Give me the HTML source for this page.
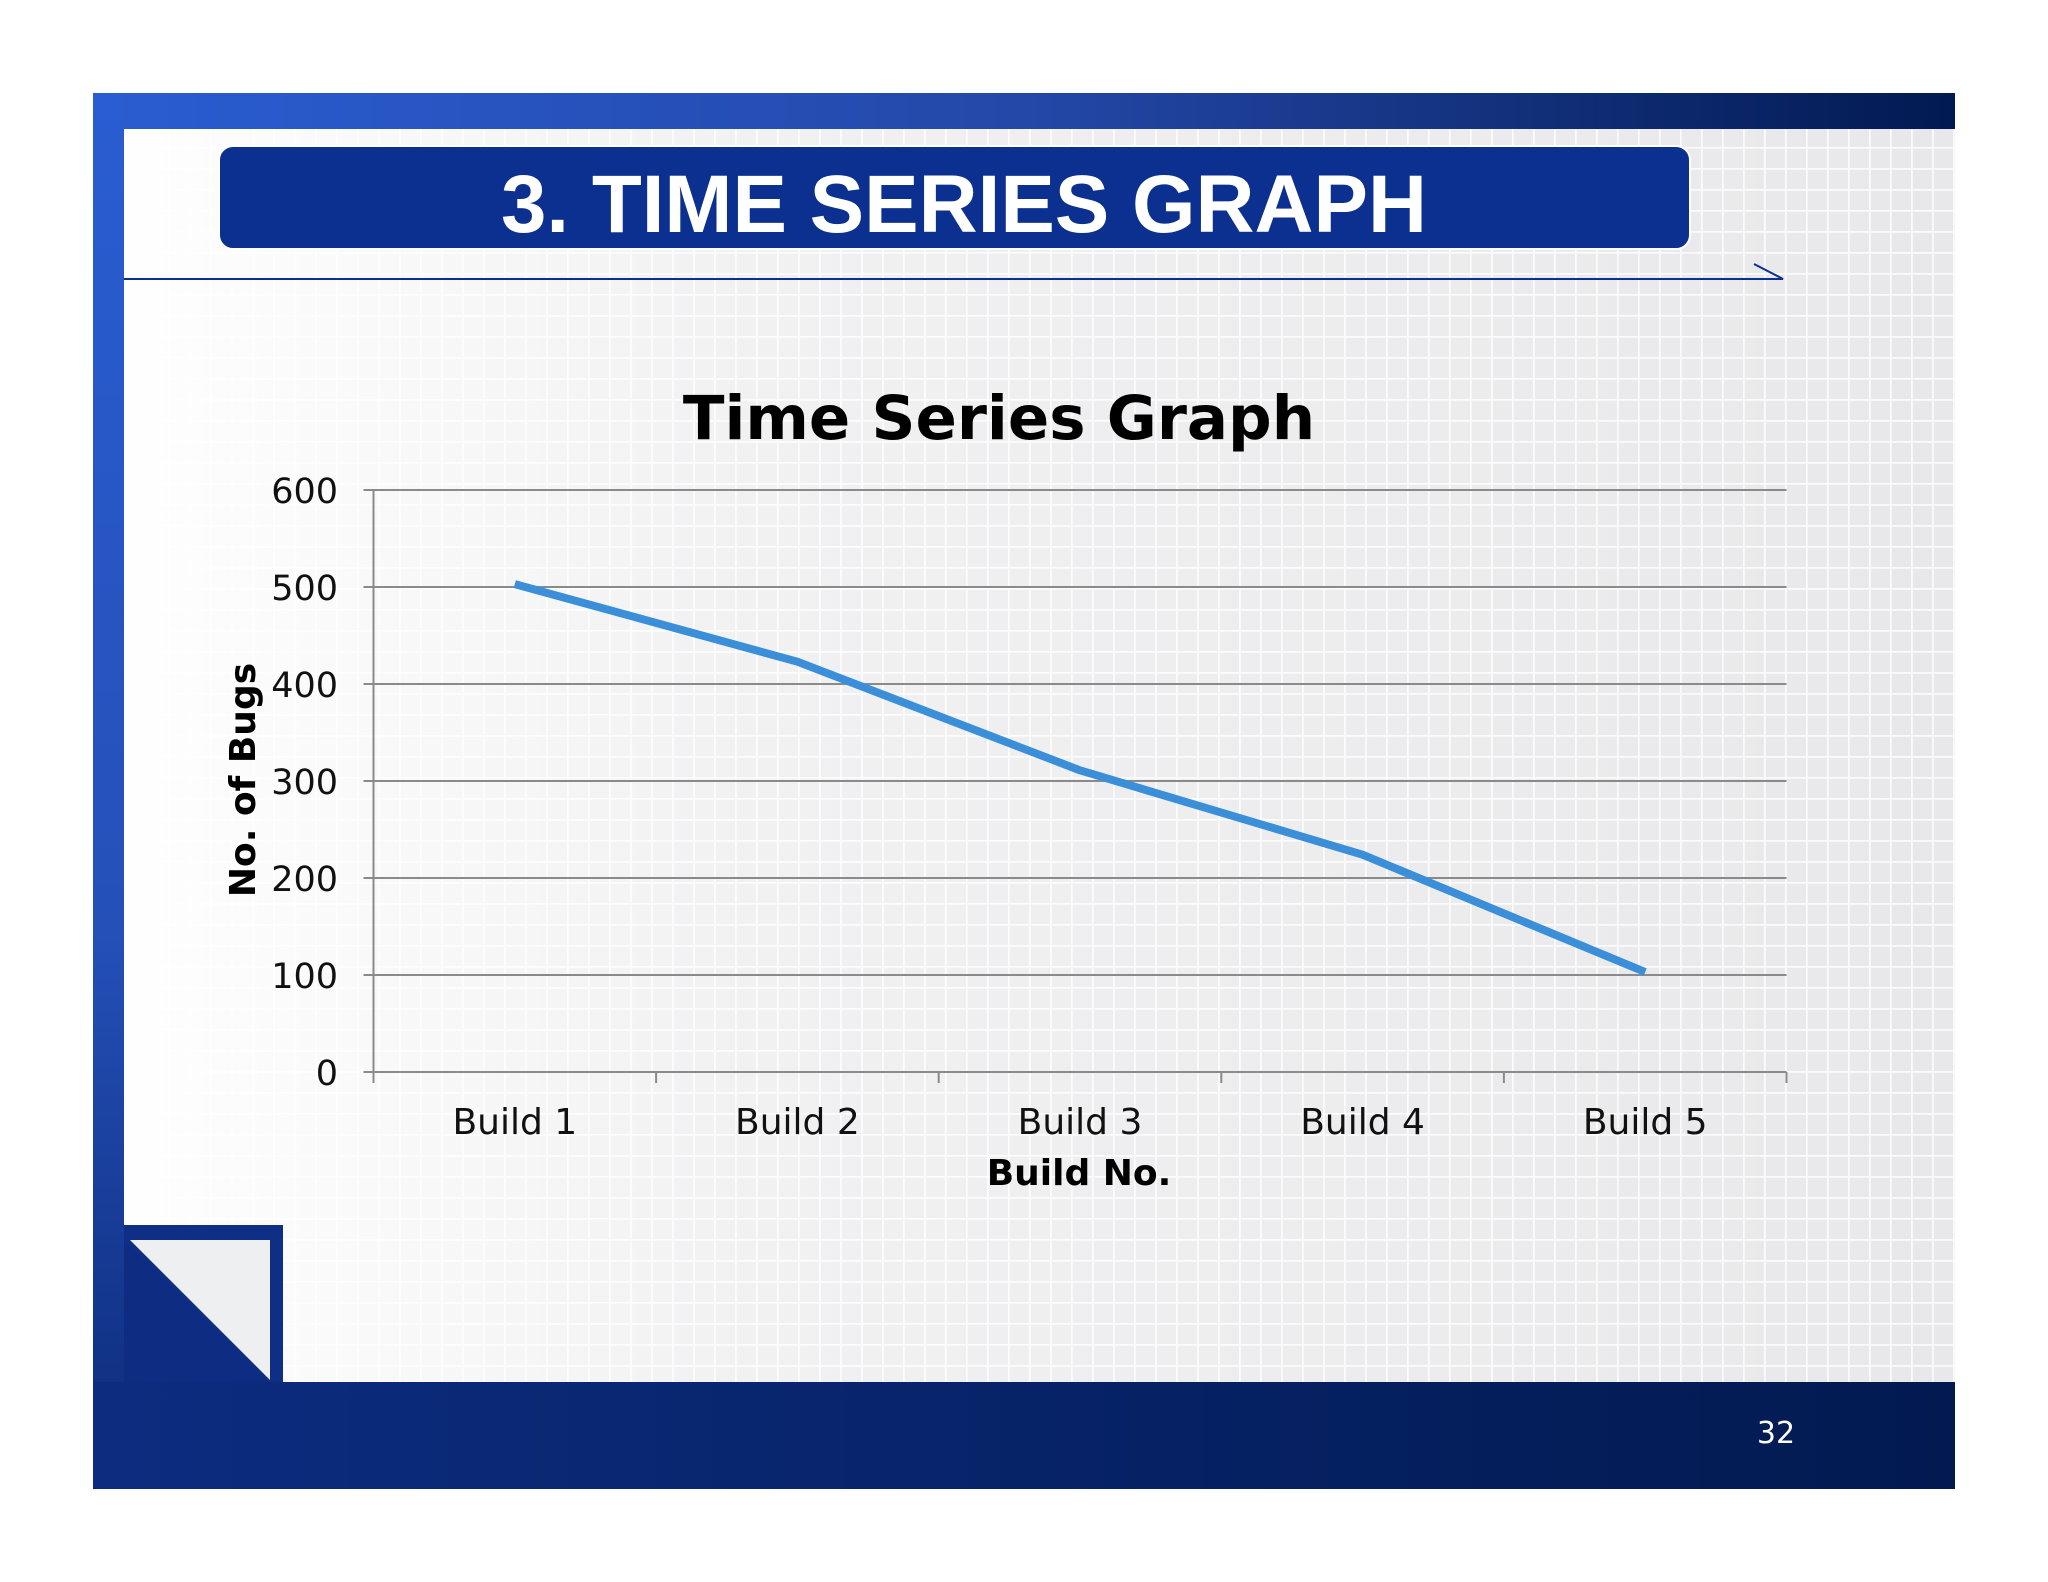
<!DOCTYPE html>
<html><head><meta charset="utf-8"><style>
html,body{margin:0;padding:0;width:2048px;height:1582px;overflow:hidden;background:#fff;}
svg{display:block;}
</style></head><body>
<svg width="2048" height="1582" viewBox="0 0 2048 1582" xmlns="http://www.w3.org/2000/svg">
<defs>
<linearGradient id="topg" x1="0" x2="1" y1="0" y2="0"><stop offset="0" stop-color="#2a5dd2"/><stop offset="0.5" stop-color="#2448a8"/><stop offset="1" stop-color="#021a52"/></linearGradient>
<linearGradient id="leftg" x1="0" x2="0" y1="0" y2="1"><stop offset="0" stop-color="#2a5dd2"/><stop offset="0.6" stop-color="#2450b8"/><stop offset="1" stop-color="#0c2a78"/></linearGradient>
<linearGradient id="botg" x1="0" x2="1" y1="0" y2="0"><stop offset="0" stop-color="#0c2c80"/><stop offset="1" stop-color="#021a50"/></linearGradient>
<linearGradient id="bgfade" x1="0" x2="1" y1="0" y2="0"><stop offset="0" stop-color="#fff" stop-opacity="1"/><stop offset="0.35" stop-color="#fff" stop-opacity="0.4"/><stop offset="1" stop-color="#fff" stop-opacity="0"/></linearGradient>
<pattern id="grid" width="21" height="21" patternUnits="userSpaceOnUse"><rect width="21" height="21" fill="#e8e8ea"/><path d="M0 0.5H21M0.5 0V21" stroke="#fafafa" stroke-width="2.5"/></pattern>
</defs>
<rect x="93" y="93" width="1862" height="1396" fill="url(#grid)"/>
<rect x="93" y="93" width="1862" height="1396" fill="url(#bgfade)"/>
<rect x="93" y="93" width="1862" height="36" fill="url(#topg)"/>
<rect x="93" y="93" width="31" height="1396" fill="url(#leftg)"/>
<rect x="93" y="1382" width="1862" height="107" fill="url(#botg)"/>
<g>
<rect x="124" y="1225" width="159" height="157" fill="#0f2f86"/>
<path d="M130 1240 L270 1240 L270 1380 Z" fill="#eeeff0"/>
<path d="M124 1240 L270 1382 L124 1382 Z" fill="#0e2c82"/>
</g>
<rect x="219" y="146" width="1471" height="103" rx="14" fill="#0c3090" stroke="#fff" stroke-width="2"/>
<text x="964" y="232" text-anchor="middle" font-family="Liberation Sans, sans-serif" font-weight="bold" font-size="82" textLength="926" lengthAdjust="spacingAndGlyphs" fill="#fff">3. TIME SERIES GRAPH</text>
<path d="M124 279 H1783 L1754 264" stroke="#0c3090" stroke-width="2" fill="none"/>
<text x="1776" y="1443" text-anchor="middle" font-family="DejaVu Sans, sans-serif" font-size="30" fill="#fff">32</text>
<g id="chart"></g>
</svg>
<script>
const categories = ["Build 1","Build 2","Build 3","Build 4","Build 5"];
const bugCounts = [503, 423, 311, 224, 103];
const yTicks = [0,100,200,300,400,500,600];
const NS="http://www.w3.org/2000/svg";
const g=document.getElementById('chart');
const L=373.5,R=1786.5,T=490,B=1072,yMax=600;
const y=v=>B-(v/yMax)*(B-T);
const bw=(R-L)/categories.length;
const x=i=>L+bw*(i+0.5);
function mk(tag,attrs,parent){const e=document.createElementNS(NS,tag);for(const k in attrs)e.setAttribute(k,attrs[k]);(parent||g).appendChild(e);return e;}
yTicks.forEach(t=>{
  const ln=mk('line',{x1:L-10,x2:R,y1:y(t),y2:y(t),stroke:'#8a8a8a','stroke-width':2});
  
  
  const tx=mk('text',{x:338,y:y(t)+13,'text-anchor':'end','font-family':'DejaVu Sans, sans-serif','font-size':35,fill:'#111'});
  tx.textContent=t;
  
  
});
const ax=mk('line',{x1:L,x2:L,y1:T,y2:B,stroke:'#8a8a8a','stroke-width':2});


for(let i=0;i<=categories.length;i++){
  const tk=mk('line',{x1:L+bw*i,x2:L+bw*i,y1:B,y2:B+11,stroke:'#8a8a8a','stroke-width':2});
  
  
}
categories.forEach((c,i)=>{
  const tx=mk('text',{x:x(i),y:1134,'text-anchor':'middle','font-family':'DejaVu Sans, sans-serif','font-size':36,fill:'#111'});
  tx.textContent=c;
  
  
});
const pts=bugCounts.map((v,i)=>x(i)+','+y(v)).join(' ');
const pl=mk('polyline',{points:pts,fill:'none',stroke:'#3a8fd8','stroke-width':8,'stroke-linejoin':'round'});


const ct=mk('text',{x:999,y:439,'text-anchor':'middle','font-family':'DejaVu Sans, sans-serif','font-weight':'bold','font-size':61,fill:'#000'});
ct.textContent='Time Series Graph';


const xt=mk('text',{x:1079,y:1185,'text-anchor':'middle','font-family':'DejaVu Sans, sans-serif','font-weight':'bold','font-size':36,fill:'#000'});
xt.textContent='Build No.';


const yt=mk('text',{x:0,y:0,'text-anchor':'middle','font-family':'DejaVu Sans, sans-serif','font-weight':'bold','font-size':36,fill:'#000',transform:'translate(255,780) rotate(-90)'});
yt.textContent='No. of Bugs';


</script>
</body></html>
